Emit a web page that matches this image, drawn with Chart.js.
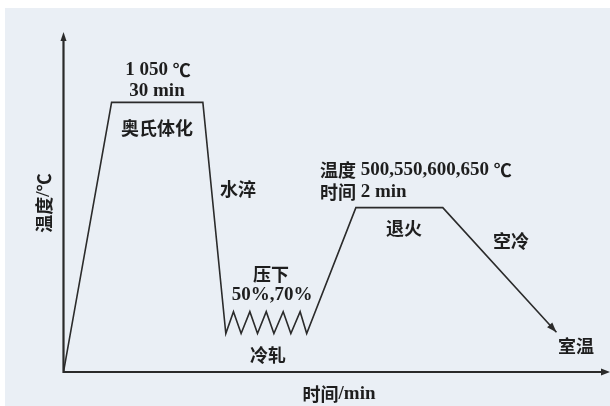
<!DOCTYPE html>
<html>
<head>
<meta charset="utf-8">
<script src="https://cdn.jsdelivr.net/npm/chart.js@4/dist/chart.umd.min.js"></script>
<style>
html,body{margin:0;padding:0;background:#ffffff;}
#wrap{position:relative;width:610px;height:406px;}
</style>
</head>
<body>
<div id="wrap"><canvas id="c" width="610" height="406"></canvas></div>
<script>
// Process route: time (arbitrary units) vs temperature (°C, schematic)
const stageTimes = [0, 8.8, 25.5, 29.7, 31.1, 32.5, 34.1, 35.5, 37.1, 38.5, 40.2, 41.6, 43.3, 44.5, 53.5, 69.4, 90.2];
const stageTemps = [0, 1050, 1050, 150, 235, 150, 235, 150, 235, 150, 235, 150, 235, 150, 640, 640, 155];
const axisRange = { xMax: 100, yMax: 1320 };
const labels = {
  austTemp: "1 050 ℃",
  austTime: "30 min",
  aust: "奥氏体化",
  quench: "水淬",
  reduce: "压下",
  reducePct: "50%,70%",
  coldRoll: "冷轧",
  annTemp: "温度 500,550,600,650 ℃",
  annTime: "时间 2 min",
  anneal: "退火",
  airCool: "空冷",
  room: "室温",
  xTitle: "时间/min",
  yTitle: "温度/℃"
};

const points = stageTimes.map((t, i) => ({ x: t, y: stageTemps[i] }));

const LINE = '#2b2b2b';
const CJK_FONT = 'bold 18px "Noto Sans CJK SC", sans-serif';
const SERIF_FONT = 'bold 19px "Liberation Serif", "DejaVu Serif", serif';

function arrowHead(ctx, x1, y1, x2, y2, len, half) {
  const a = Math.atan2(y2 - y1, x2 - x1);
  ctx.beginPath();
  ctx.moveTo(x2, y2);
  ctx.lineTo(x2 - len * Math.cos(a) + half * Math.sin(a), y2 - len * Math.sin(a) - half * Math.cos(a));
  ctx.lineTo(x2 - len * Math.cos(a) - half * Math.sin(a), y2 - len * Math.sin(a) + half * Math.cos(a));
  ctx.closePath();
  ctx.fill();
}

function runs(s) {
  const out = [];
  for (const ch of s) {
    const cjk = /[\u2100-\u21ff\u3000-\u9fff]/.test(ch);
    if (out.length && out[out.length - 1].cjk === cjk) out[out.length - 1].t += ch;
    else out.push({ t: ch, cjk });
  }
  return out;
}

function mixedText(ctx, s, x, y, align) {
  const rs = runs(s);
  let total = 0;
  rs.forEach(r => { ctx.font = r.cjk ? CJK_FONT : SERIF_FONT; r.w = ctx.measureText(r.t).width; total += r.w; });
  let cx = align === 'left' ? x : x - total / 2;
  ctx.textAlign = 'left';
  rs.forEach(r => { ctx.font = r.cjk ? CJK_FONT : SERIF_FONT; ctx.fillText(r.t, cx, y); cx += r.w; });
}

const decor = {
  id: 'decor',
  beforeDraw(chart) {
    const ctx = chart.ctx;
    ctx.save();
    ctx.fillStyle = '#ffffff';
    ctx.fillRect(0, 0, chart.width, chart.height);
    ctx.fillStyle = '#eaeff5';
    ctx.fillRect(5, 8, chart.width - 5, chart.height - 8);
    ctx.restore();
  },
  afterDatasetsDraw(chart) {
    const ctx = chart.ctx;
    const xs = chart.scales.x, ys = chart.scales.y;
    const X = v => xs.getPixelForValue(v), Y = v => ys.getPixelForValue(v);
    ctx.save();
    // axes
    ctx.strokeStyle = '#2a2a2a';
    ctx.fillStyle = '#2a2a2a';
    ctx.lineWidth = 2.2;
    ctx.beginPath();
    ctx.moveTo(X(0), Y(axisRange.yMax) + 4);
    ctx.lineTo(X(0), Y(0));
    ctx.lineTo(X(axisRange.xMax) - 4, Y(0));
    ctx.stroke();
    arrowHead(ctx, X(0), Y(0), X(0), Y(axisRange.yMax) - 1, 9, 3);
    arrowHead(ctx, X(0), Y(0), X(axisRange.xMax), Y(0), 9, 3.5);
    // arrow at end of curve
    const n = stageTimes.length;
    ctx.fillStyle = LINE;
    arrowHead(ctx, X(stageTimes[n - 2]), Y(stageTemps[n - 2]), X(stageTimes[n - 1]), Y(stageTemps[n - 1]), 10, 3.5);

    // texts
    ctx.fillStyle = '#1e1e1e';
    ctx.textBaseline = 'middle';
    mixedText(ctx, labels.austTemp, 158, 70);
    mixedText(ctx, labels.austTime, 157, 91);
    mixedText(ctx, labels.aust, 157, 128);
    mixedText(ctx, labels.quench, 238, 189);
    mixedText(ctx, labels.reduce, 271, 274);
    mixedText(ctx, labels.reducePct, 272, 295);
    mixedText(ctx, labels.coldRoll, 268, 355);
    mixedText(ctx, labels.annTemp, 320, 170, 'left');
    mixedText(ctx, labels.annTime, 320, 192, 'left');
    mixedText(ctx, labels.anneal, 404, 228);
    mixedText(ctx, labels.airCool, 511, 241);
    mixedText(ctx, labels.room, 576, 346);
    mixedText(ctx, labels.xTitle, 339, 394);
    // y title rotated
    ctx.translate(44, 203);
    ctx.rotate(-Math.PI / 2);
    mixedText(ctx, labels.yTitle, 0, 0);
    ctx.restore();
  }
};

new Chart(document.getElementById('c'), {
  type: 'scatter',
  data: {
    datasets: [{
      data: points,
      showLine: true,
      borderColor: LINE,
      borderWidth: 1.6,
      pointRadius: 0,
      fill: false,
      tension: 0
    }]
  },
  options: {
    responsive: false,
    animation: false,
    events: [],
    layout: { padding: { left: 63.5, top: 33, right: 0, bottom: 34 } },
    plugins: { legend: { display: false }, tooltip: { enabled: false } },
    scales: {
      x: { type: 'linear', display: false, min: 0, max: axisRange.xMax },
      y: { type: 'linear', display: false, min: 0, max: axisRange.yMax }
    }
  },
  plugins: [decor]
});
</script>
</body>
</html>
